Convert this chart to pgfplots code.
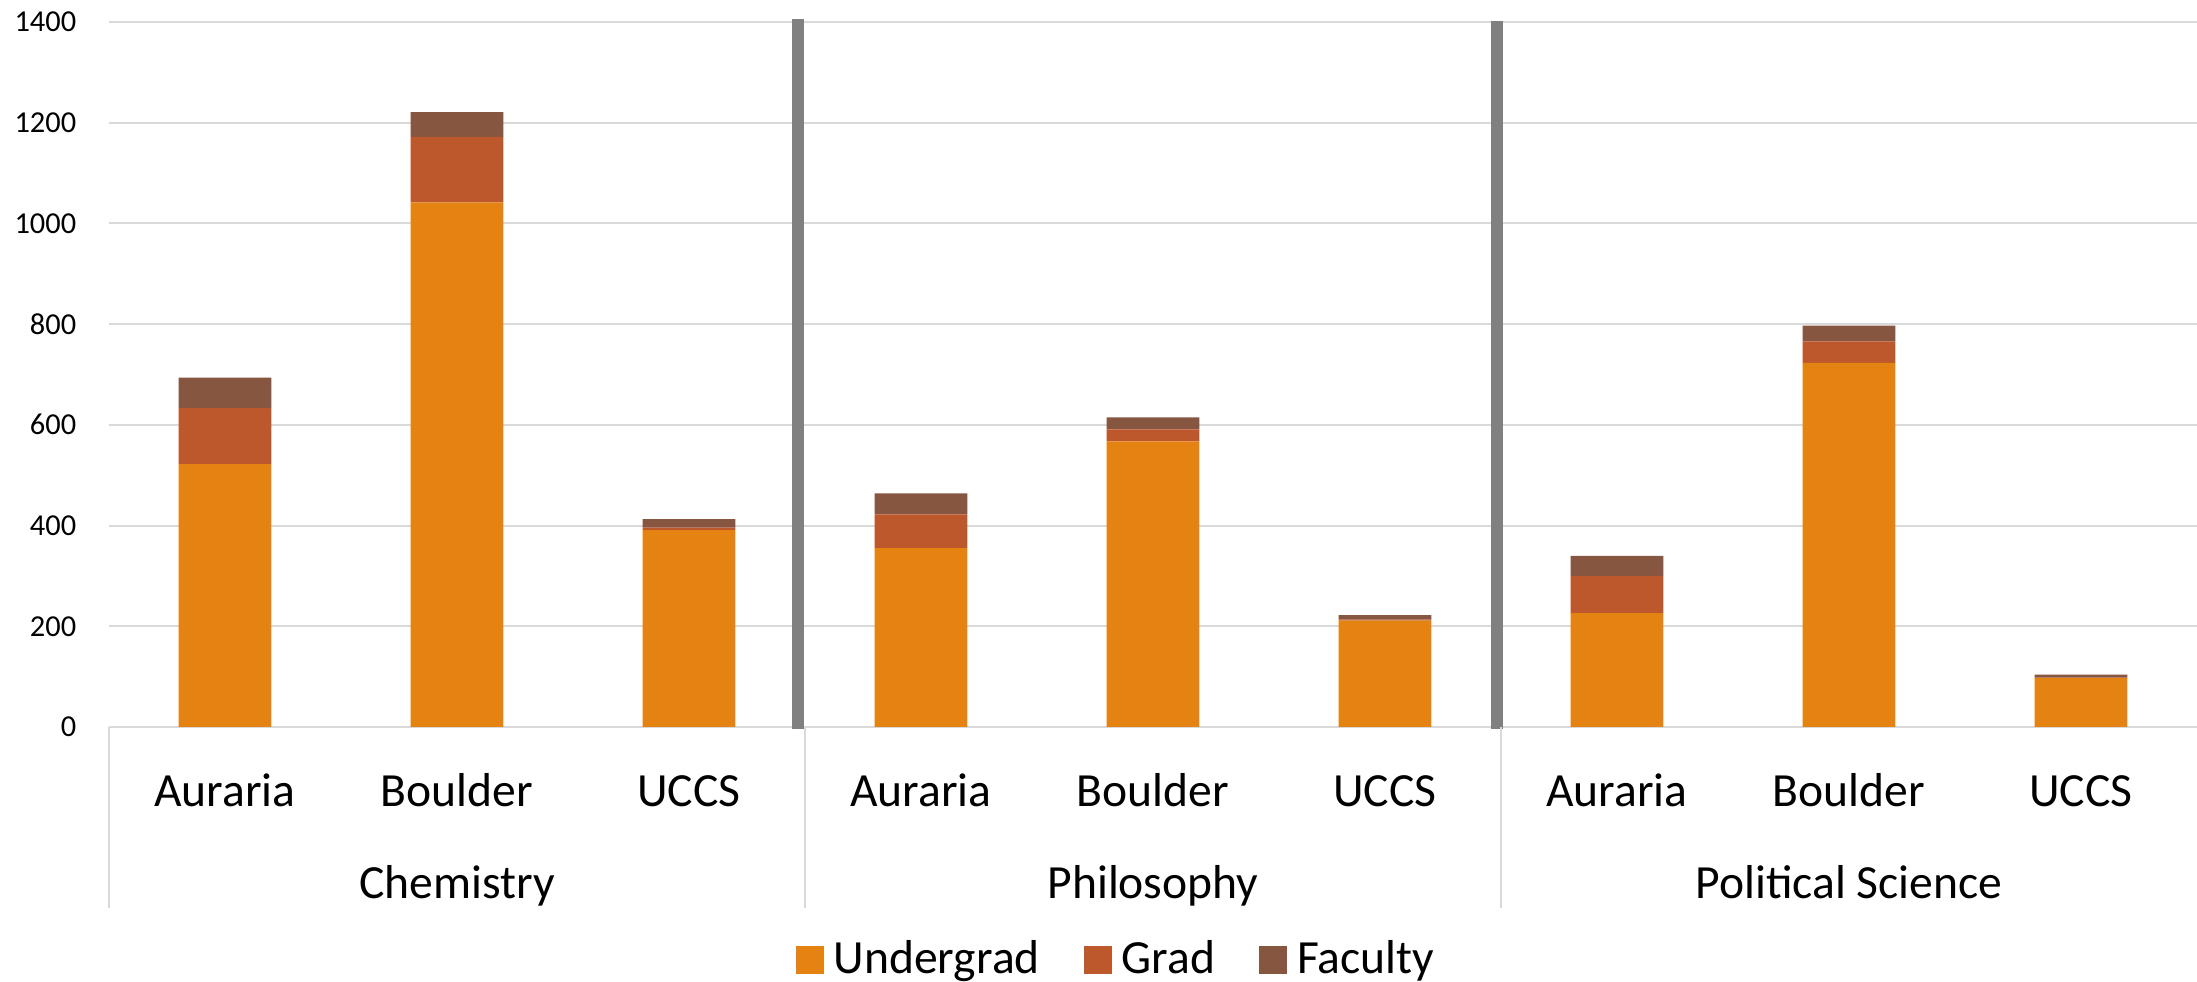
\documentclass[border=0pt]{standalone}
\usepackage{fontspec}
\setmainfont{Carlito}
\usepackage{pgfplots}
\pgfplotsset{compat=1.18}

\definecolor{ugrad}{HTML}{E48312}
\definecolor{grad}{HTML}{BD582C}
\definecolor{fac}{HTML}{865640}
\definecolor{gridc}{HTML}{D9D9D9}
\definecolor{sepc}{HTML}{808080}

% campus values per department, x = 0..8
\pgfplotstableread{
x  ugrad grad fac
0  522   111  61
1  1042  130  49
2  391   5    17
3  355   67   42
4  567   24   24
5  211   2    9
6  226   74   40
7  723   43   31
8  97    1    6
}\enrol

\begin{document}
\begin{tikzpicture}
\path[use as bounding box] (-27.25pt,-63.75pt) rectangle (522pt,181.75pt);
\begin{axis}[
    at={(0,0)}, anchor=south west,
    scale only axis,
    width=522pt, height=176.25pt,
    ybar stacked, bar width=0.4,
    xmin=-0.5, xmax=8.5,
    ymin=0, ymax=1400,
    ytick={0,200,...,1400},
    xtick={0,...,8},
    xticklabels={Auraria,Boulder,UCCS,Auraria,Boulder,UCCS,Auraria,Boulder,UCCS},
    major tick length=0pt,
    axis x line*=bottom,
    axis y line*=left,
    x axis line style={gridc, line width=0.5pt, -},
    y axis line style={draw=none},
    ymajorgrids,
    major grid style={gridc, line width=0.5pt},
    /pgf/number format/assume math mode=true,
    /pgf/number format/1000 sep={},
    yticklabel style={font=\fontsize{7.6}{9}\selectfont, inner sep=0pt, xshift=-8pt},
    xticklabel style={font=\fontsize{11.9}{14}\selectfont, anchor=base, yshift=-20pt},
    clip=false,
    legend columns=3,
    legend style={draw=none, fill=none, at={(0.4837,-0.3305)}, anchor=center,
        font=\fontsize{11.9}{14}\selectfont, inner sep=0pt,
        /tikz/every odd column/.append style={column sep=0.5pt},
        /tikz/every even column/.append style={column sep=9pt}},
    legend image code/.code={\fill[#1] (0pt,-3.5pt) rectangle (7pt,3.5pt);},
]
\addplot[fill=ugrad, draw=none] table[x=x, y=ugrad] {\enrol};
\addplot[fill=grad, draw=none] table[x=x, y=grad] {\enrol};
\addplot[fill=fac, draw=none] table[x=x, y=fac] {\enrol};
\legend{Undergrad, Grad, Faculty}

% group dividers below the axis
\pgfplotsinvokeforeach{-0.5,2.5,5.5}{
    \draw[gridc, line width=0.5pt] (axis cs:#1,0) -- ++(0pt,-45.25pt);
}
% thick grey separators between departments
\draw[sepc, line width=3pt] (axis cs:2.47,-3.5) -- (axis cs:2.47,1406);
\draw[sepc, line width=3pt] (axis cs:5.485,-3.5) -- (axis cs:5.485,1402);

% department labels
\node[anchor=base, font=\fontsize{11.9}{14}\selectfont] at ([yshift=-42.8pt]axis cs:1,0) {Chemistry};
\node[anchor=base, font=\fontsize{11.9}{14}\selectfont] at ([yshift=-42.8pt]axis cs:4,0) {Philosophy};
\node[anchor=base, font=\fontsize{11.9}{14}\selectfont] at ([yshift=-42.8pt]axis cs:7,0) {Political Science};
\end{axis}
\end{tikzpicture}
\end{document}
